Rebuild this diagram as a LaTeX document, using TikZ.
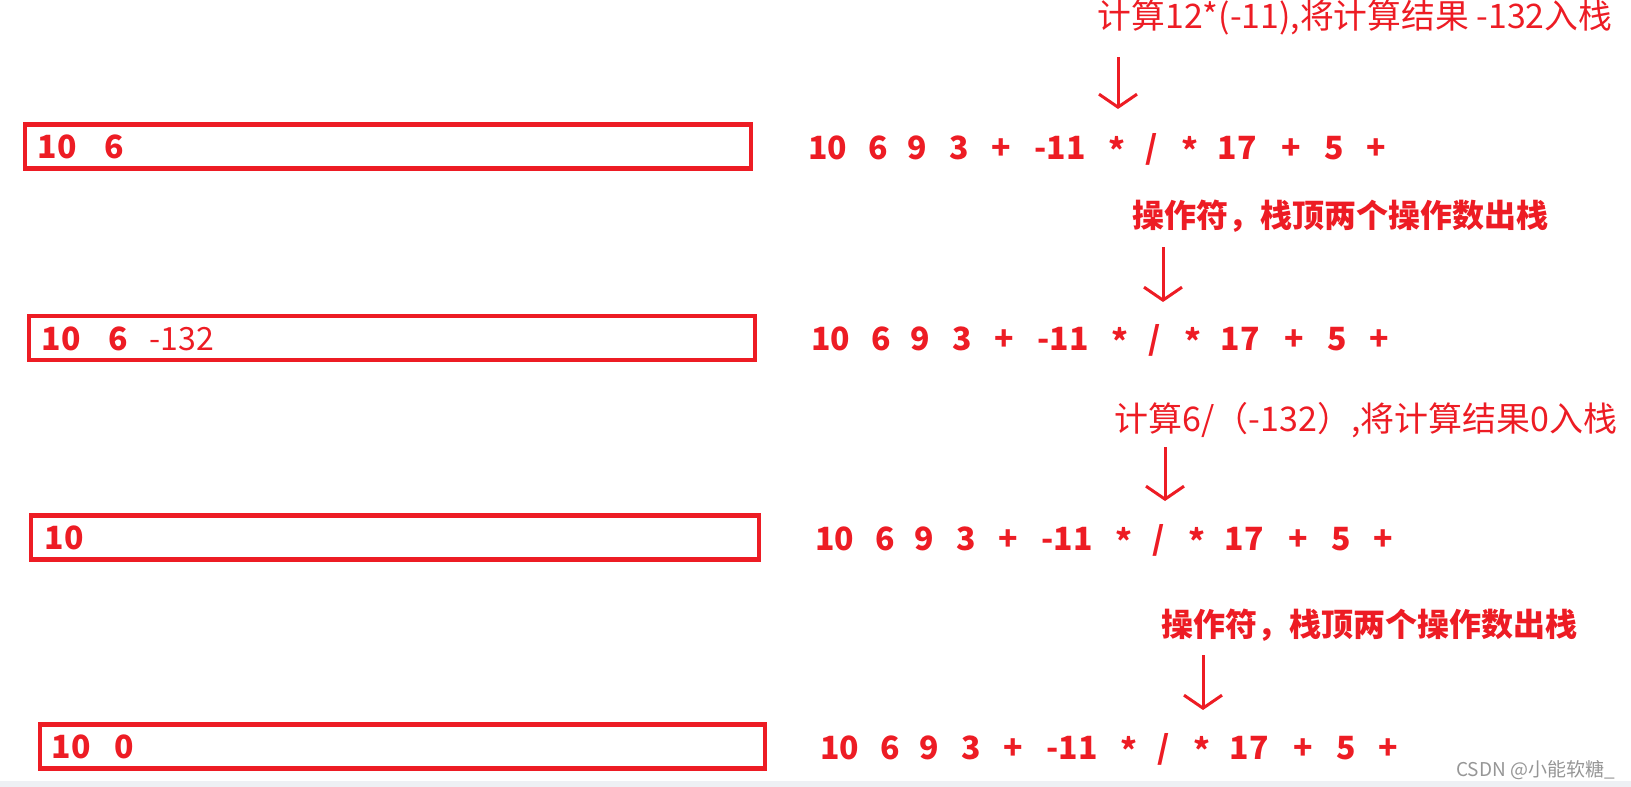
\documentclass[tikz,border=0pt]{standalone}
\usepackage{fontspec}
\setmainfont{Noto Sans CJK SC}
\usetikzlibrary{arrows.meta,positioning}

\definecolor{paintred}{RGB}{237,28,36}
\definecolor{wmgray}{RGB}{150,150,150}
\definecolor{bandgray}{RGB}{238,240,244}

\begin{document}
\begin{tikzpicture}[x=1pt,y=-1pt,>={Straight Barb[length=13pt,width=38pt]},
  stackbox/.style={draw=paintred,line width=4.5pt,minimum width=726pt,minimum height=44pt,inner sep=0pt},
  tok/.style={text=paintred,font=\fontsize{32}{36}\selectfont\bfseries,inner sep=0pt,anchor=base},
  note/.style={text=paintred,font=\fontsize{33.8}{36}\selectfont,inner sep=0pt},
  boldnote/.style={note,font=\fontsize{32}{36}\selectfont\bfseries}]

\useasboundingbox (0,0) rectangle (1631,787);
\fill[bandgray] (0,781) rectangle (1631,787);

% Stack
\node[stackbox] (b1) at (388,146.5) {};
\node[tok,anchor=base west] (c1) at ([xshift=15pt,yshift=-12pt]b1.west) {10\hspace{28pt}6};

\node[stackbox] (b2) at (392,338) {};
\node[tok,anchor=base west] (c2) at ([xshift=15pt,yshift=-12pt]b2.west) {10\hspace{28pt}6\hspace{21pt}{\mdseries -132}};

\node[stackbox,minimum width=728pt] (b3) at (395,537.5) {};
\node[tok,anchor=base west] (c3) at ([xshift=16pt,yshift=-12pt]b3.west) {10};

\node[stackbox,minimum width=725pt] (b4) at (402.5,746.5) {};
\node[tok,anchor=base west] (c4) at ([xshift=14pt,yshift=-12pt]b4.west) {10\hspace{24pt}0};

% Ausdruck (Postfix)
\def\st{\raisebox{-3pt}{*}}
\def\seq{17.5/10,68/6,107/9,149/3,191/+,250/-11,307/\st,342/{/},380/\st,427/17,481/+,524/5,566/+}
\foreach \r/\xo/\yo in {1/810/159,2/813/350,3/817/550,4/822/759}
  \foreach \x/\t [count=\i] in \seq
    \node[tok] (s\r-\i) at (\xo+\x,\yo) {\t};

% Hinweise
\node[note] (n1) at (1355,18) {计算12*(-11),将计算结果 -132入栈};
\node[boldnote] (n2) at (1340,216) {操作符，栈顶两个操作数出栈};
\node[note,font=\fontsize{34}{36}\selectfont] (n3) at (1366,420) {计算6/（-132）,将计算结果0入栈};
\node[boldnote] (n4) at (1369,625) {操作符，栈顶两个操作数出栈};

% Pfeile
\coordinate (p1) at (1118,57);  \coordinate (q1) at (1118,109);
\coordinate (p2) at (1163,247); \coordinate (q2) at (1163,302);
\coordinate (p3) at (1165,447); \coordinate (q3) at (1165,501);
\coordinate (p4) at (1203,655); \coordinate (q4) at (1203,710);
\foreach \k in {1,...,4}
  \draw[->,paintred,line width=3pt] (p\k) -- (q\k);

% Wasserzeichen
\node[text=wmgray,font=\fontsize{19}{20}\selectfont,anchor=east,inner sep=0pt] (wm) at (1615,770) {CSDN @小能软糖\_};

\end{tikzpicture}
\end{document}
